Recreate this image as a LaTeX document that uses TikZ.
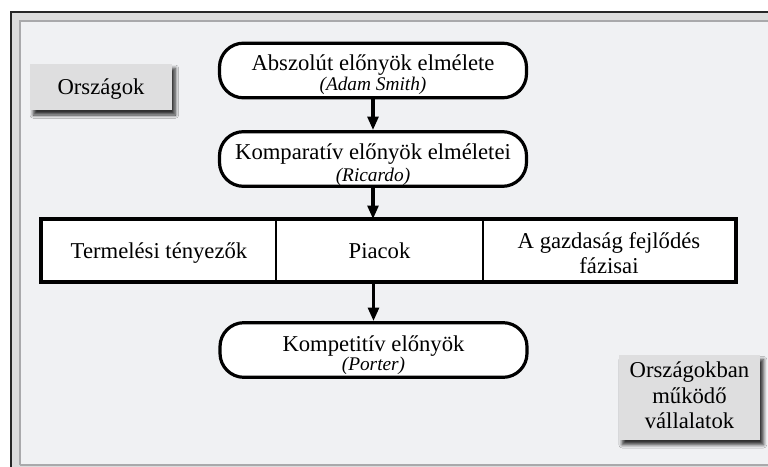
\documentclass[tikz,border=0pt]{standalone}
\usepackage{fontspec}
\setmainfont{Liberation Serif}
\usetikzlibrary{shadows.blur,arrows.meta}
\definecolor{bandgray}{HTML}{DCDCDC}
\definecolor{paper}{HTML}{F0F1F3}
\definecolor{edgegray}{HTML}{A9A9AB}
\definecolor{labelgray}{HTML}{DEDEDF}
\tikzset{
  x=0.75pt, y=-0.75pt,
  theory/.style={draw=black, line width=2.4pt, fill=white, rounded corners=18pt,
    minimum width=230.25pt, minimum height=41pt, inner sep=0pt},
  cell/.style={draw=black, line width=1.6pt, fill=white, minimum height=46pt,
    inner sep=0pt},
  tag/.style={fill=labelgray, inner sep=0pt,
    blur shadow={shadow xshift=2.5pt, shadow yshift=-3.5pt, shadow blur steps=6,
      shadow opacity=80, shadow blur radius=2.5pt}},
  txt/.style={anchor=base, inner sep=0pt, font=\fontsize{17}{20}\selectfont},
  author/.style={anchor=base, inner sep=0pt, font=\fontsize{14.5}{16}\selectfont\itshape},
  flow/.style={line width=2.4pt, -{Triangle[length=10pt,width=8pt]}},
}
\begin{document}
\begin{tikzpicture}
\useasboundingbox (0,0) rectangle (768,467);
% frame around the drawing area
\fill[bandgray] (11,12) rectangle (790,490);
\draw[black!85, line width=1.2pt] (11,490) -- (11,12) -- (790,12);
\fill[paper] (20,21) rectangle (790,465);
\draw[edgegray, line width=1.1pt] (20,465) -- (20,21) -- (790,21);
\draw[edgegray, line width=0.9pt] (20,465) -- (790,465);

% side labels
\node[tag, minimum width=106.5pt, minimum height=35pt] (orsz) at (101,87) {};
\node[txt] (orszt) at (101,95) {Országok};
\node[tag, minimum width=106pt, minimum height=63.75pt] (vall) at (689.5,397.5) {};
\node[txt] (vall1) at (689.5,377) {Országokban};
\node[txt] (vall2) at (689.5,403) {működő};
\node[txt] (vall3) at (689.5,428) {vállalatok};

% theories
\node[theory] (abs) at (373,70.5) {};
\node[txt] (abs1) at (373,71) {Abszolút előnyök elmélete};
\node[author] (abs2) at (373,90.5) {(Adam Smith)};
\node[theory] (komp) at (373,159) {};
\node[txt] (komp1) at (373,160) {Komparatív előnyök elméletei};
\node[author] (komp2) at (373,181.5) {(Ricardo)};
\node[theory] (kompet) at (373.5,350) {};
\node[txt] (kompet1) at (373.5,351) {Kompetitív előnyök};
\node[author] (kompet2) at (373.5,370.5) {(Porter)};

% factor table
\node[cell, minimum width=175.5pt] (term) at (159,250.75) {};
\node[cell, minimum width=155.25pt] (piac) at (379.5,250.75) {};
\node[cell, minimum width=189pt] (gazd) at (609,250.75) {};
\draw[black, line width=2.4pt] (term.north west) rectangle (gazd.south east);
\node[txt] (termt) at (159,258) {Termelési tényezők};
\node[txt] (piact) at (379.5,258) {Piacok};
\node[txt] (gazd1) at (609,248) {A gazdaság fejlődés};
\node[txt] (gazd2) at (609,273) {fázisai};

% arrows
\draw[flow] (abs) -- (komp);
\draw[flow] (komp.south) -- (komp.south |- piac.north);
\draw[flow] (kompet.north |- piac.south) -- (kompet.north);
\end{tikzpicture}
\end{document}
